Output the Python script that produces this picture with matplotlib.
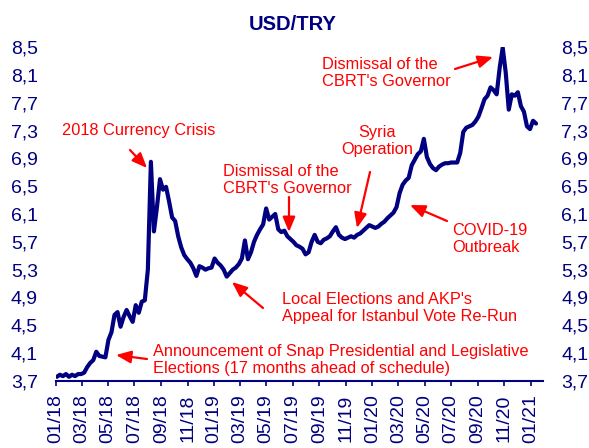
import numpy as np
import pandas as pd
import matplotlib
matplotlib.use('Agg')
from matplotlib import pyplot as plt
import matplotlib.dates as mdates
from matplotlib.ticker import FuncFormatter

# weekly USD/TRY
dates = pd.date_range('2018-01-03', periods=159, freq='7D')
usdtry = [3.76, 3.79, 3.77, 3.80, 3.76, 3.79, 3.77, 3.80, 3.80, 3.82,
          3.90, 3.96, 4.00, 4.12, 4.06, 4.05, 4.04, 4.29, 4.40, 4.65,
          4.69, 4.48, 4.62, 4.72, 4.63, 4.55, 4.79, 4.68, 4.84, 4.86,
          5.30, 6.85, 5.85, 6.20, 6.60, 6.45, 6.49, 6.28, 6.05, 6.00,
          5.78, 5.62, 5.51, 5.45, 5.40, 5.32, 5.21, 5.35, 5.33, 5.30,
          5.32, 5.33, 5.46, 5.40, 5.36, 5.30, 5.20, 5.25, 5.30, 5.33,
          5.38, 5.46, 5.72, 5.45, 5.55, 5.70, 5.80, 5.88, 5.95, 6.18,
          6.02, 6.06, 6.10, 5.88, 5.84, 5.86, 5.78, 5.74, 5.70, 5.65,
          5.63, 5.60, 5.52, 5.55, 5.70, 5.80, 5.70, 5.68, 5.73, 5.75,
          5.78, 5.85, 5.91, 5.80, 5.76, 5.74, 5.76, 5.78, 5.76, 5.80,
          5.82, 5.86, 5.90, 5.94, 5.92, 5.90, 5.92, 5.96, 5.99, 6.04,
          6.08, 6.12, 6.20, 6.40, 6.52, 6.58, 6.62, 6.80, 6.88, 6.96,
          7.00, 7.18, 6.92, 6.82, 6.76, 6.73, 6.78, 6.81, 6.83, 6.83,
          6.84, 6.84, 6.84, 6.98, 7.28, 7.34, 7.36, 7.38, 7.43, 7.50,
          7.62, 7.75, 7.80, 7.92, 7.88, 7.82, 8.20, 8.49, 8.13, 7.60,
          7.82, 7.80, 7.85, 7.65, 7.57, 7.36, 7.32, 7.44, 7.40]
yticks = [3.7, 4.1, 4.5, 4.9, 5.3, 5.7, 6.1, 6.5, 6.9, 7.3, 7.7, 8.1, 8.5]

# annotations: text, left/centre x px, centre y px, alignment
notes = [
    ('2018 Currency Crisis', 62, 131, 'left'),
    ("Dismissal of the\nCBRT's Governor", 223, 180, 'left'),
    ('Syria\nOperation', 377, 141, 'center'),
    ("Dismissal of the\nCBRT's Governor", 322, 73, 'left'),
    ('COVID-19\nOutbreak', 452, 239, 'left'),
    ("Local Elections and AKP's\nAppeal for Istanbul Vote Re-Run", 282, 308, 'left'),
    ('Announcement of Snap Presidential and Legislative\n'
     'Elections (17 months ahead of schedule)', 153, 360, 'left'),
]
# arrows: tail px -> tip px
arrows = [
    ((130, 150), (147, 168)),
    ((289, 197), (289, 232)),
    ((370, 172), (357, 228)),
    ((455, 69), (493, 57)),
    ((447, 221), (410, 205)),
    ((263, 308), (232, 282)),
    ((147, 359), (116, 355)),
]

W, H = 589, 448
navy = '#000080'
red = '#ff0000'
plt.rcParams['font.family'] = ['Liberation Sans', 'DejaVu Sans']

def fig_xy(x, y):
    return (x / W, 1 - y / H)

fig = plt.figure(figsize=(W / 100, H / 100), dpi=100)
ax = fig.add_axes([56 / W, 67 / H, (543 - 56) / W, (381 - 47) / H])

ax.plot(dates, usdtry, color=navy, lw=3.0, solid_joinstyle='round', solid_capstyle='round')

ax.set_ylim(3.7, 8.5)
ax.set_yticks(yticks)
ax.yaxis.set_major_formatter(FuncFormatter(lambda v, p: ('%.1f' % v).replace('.', ',')))
ax.set_xlim(pd.Timestamp('2018-01-01'), pd.Timestamp('2021-01-29'))
ax.xaxis.set_major_locator(mdates.MonthLocator(bymonth=[1, 3, 5, 7, 9, 11]))
ax.xaxis.set_major_formatter(mdates.DateFormatter('%m/%y'))

for s in ['left', 'right', 'top']:
    ax.spines[s].set_visible(False)
ax.spines['bottom'].set_color(navy)
ax.spines['bottom'].set_linewidth(1.5)

ax.tick_params(axis='y', length=0, pad=13, labelsize=14, labelcolor=navy,
               labelleft=True, labelright=True)
ax.tick_params(axis='x', direction='out', length=3.8, width=1.2, color=navy,
               pad=6, labelsize=14, labelcolor=navy, labelrotation=90)
ax.patch.set_visible(False)

fig.text(292.5 / W, 1 - 24.5 / H, 'USD/TRY', ha='center', va='center',
         fontsize=14.5, fontweight='bold', color=navy)

for txt, x, y, al in notes:
    fx, fy = fig_xy(x, y)
    fig.text(fx, fy, txt, ha=al, va='center', fontsize=11.8, color=red,
             multialignment=al)

for tail, tip in arrows:
    ax.annotate('', xy=fig_xy(*tip), xycoords='figure fraction',
                xytext=fig_xy(*tail), textcoords='figure fraction',
                arrowprops=dict(arrowstyle='-|>,head_length=0.6,head_width=0.25',
                                mutation_scale=15, color=red, lw=1.6,
                                shrinkA=0, shrinkB=0))

fig.savefig('out.png', dpi=100)
